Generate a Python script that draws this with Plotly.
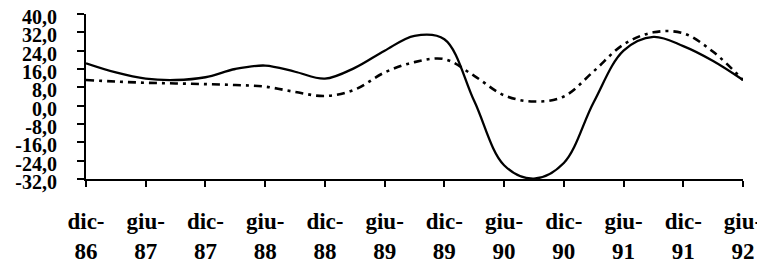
import plotly.graph_objects as go

# months elapsed since Dec-1986 (quarterly observations)
months = [0, 3, 6, 9, 12, 15, 18, 21, 24, 27, 30, 33, 36, 39, 42, 45, 48, 51, 54, 57, 60, 63, 66]

series_solid = [18.5, 14.5, 11.8, 11.2, 12.4, 16.0, 17.5, 14.8, 11.8, 16.5, 24.0, 30.5, 29.0,
                2.0, -26.0, -31.8, -25.0, 1.5, 24.0, 30.0, 26.0, 19.5, 11.2]
series_dash = [11.2, 10.5, 10.0, 9.7, 9.4, 9.0, 8.3, 6.0, 4.2, 7.0, 14.5, 19.0, 20.3,
               13.0, 4.5, 1.8, 4.0, 15.0, 26.7, 32.0, 31.6, 23.5, 11.2]

x_tickvals = [0, 6, 12, 18, 24, 30, 36, 42, 48, 54, 60, 66]
x_ticktext = ["dic-<br>86", "giu-<br>87", "dic-<br>87", "giu-<br>88", "dic-<br>88", "giu-<br>89",
              "dic-<br>89", "giu-<br>90", "dic-<br>90", "giu-<br>91", "dic-<br>91", "giu-<br>92"]
y_tickvals = [40, 32, 24, 16, 8, 0, -8, -16, -24, -32]
y_ticktext = ["40,0", "32,0", "24,0", "16,0", "8,0", "0,0", "-8,0", "-16,0", "-24,0", "-32,0"]

fig = go.Figure()
fig.add_trace(go.Scatter(x=months, y=series_dash, mode="lines",
                         line=dict(color="black", width=2.6, dash="8px,5px,3px,5px",
                                   shape="spline", smoothing=1.0),
                         showlegend=False, hoverinfo="skip"))
fig.add_trace(go.Scatter(x=months, y=series_solid, mode="lines",
                         line=dict(color="black", width=2.3, shape="spline", smoothing=1.0),
                         showlegend=False, hoverinfo="skip"))

font_family = "Liberation Serif"
fig.update_layout(
    width=757, height=258,
    margin=dict(l=78, r=22, t=6, b=87),
    paper_bgcolor="white", plot_bgcolor="white",
    showlegend=False,
    font=dict(family=font_family, color="black"),
)
fig.update_xaxes(
    range=[0, 66], tickvals=x_tickvals,
    ticktext=["<b>%s</b>" % t.replace("<br>", "</b><br><b>") for t in x_ticktext],
    showgrid=False, zeroline=False, showline=True, linecolor="black", linewidth=2,
    ticks="outside", ticklen=6, tickwidth=2, tickcolor="black",
    tickfont=dict(family=font_family, size=23, color="black"),
    ticklabelstandoff=14, automargin=False, ticklabeloverflow="allow",
)
fig.update_yaxes(
    range=[-32.0001, 40.0001], tickvals=y_tickvals, ticktext=["<b>%s</b>" % t for t in y_ticktext],
    showgrid=False, zeroline=False, showline=True, linecolor="black", linewidth=2,
    ticks="outside", ticklen=7, tickwidth=2, tickcolor="black",
    tickfont=dict(family=font_family, size=20, color="black"),
    ticklabelstandoff=16, ticklabelshift=3, automargin=False, ticklabeloverflow="allow",
)

fig.write_html("out.html")
